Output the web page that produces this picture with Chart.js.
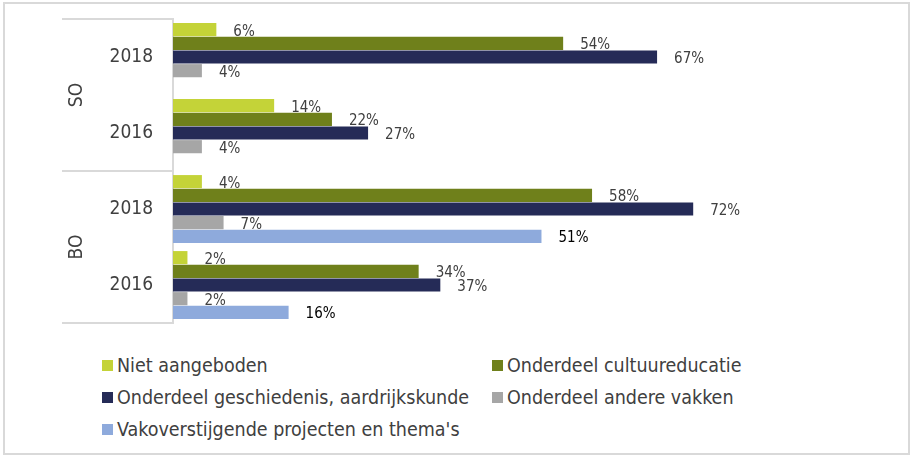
<!DOCTYPE html>
<html lang="nl">
  <head>
    <meta charset="utf-8">
    <title>Aanbod erfgoedonderwijs SO en BO</title>
    <style>
      body { margin: 0; background: #fff; font-family: "DejaVu Sans Condensed", "Liberation Sans Narrow", sans-serif; }
      #frame { position: absolute; left: 3px; top: 2px; width: 903px; height: 449px; border: 2px solid #d9d9d9; }
      #wrap { position: absolute; left: 0; top: 0; width: 911px; height: 340px; }
      #legend { position: absolute; left: 102px; top: 354px; display: grid; grid-template-columns: 390px 300px; row-gap: 10px; }
      .item { display: flex; align-items: center; font-size: 19.5px; color: #404040; height: 22px; white-space: nowrap; }
      .box { width: 11px; height: 11px; margin-right: 4px; }
    </style>
  </head>
  <body>
    <div id="frame"></div>
    <div id="wrap"><canvas id="myChart" width="911" height="340"></canvas></div>
    <div id="legend"></div>

    <script src="https://cdn.jsdelivr.net/npm/chart.js@4.4.0/dist/chart.umd.min.js"></script>
    <script>
    // jaren per groep, van boven naar beneden
    const years = ['2018', '2016', '2018', '2016']
    const groups = ['SO', 'BO']

    const nietAangeboden = [6, 14, 4, 2]
    const cultuureducatie = [54, 22, 58, 34]
    const geschiedenis = [67, 27, 72, 37]
    const andereVakken = [4, 4, 7, 2]
    const vakoverstijgend = [null, null, 51, 16]

    const series = [
      { label: 'Niet aangeboden', data: nietAangeboden, color: '#c4d338', text: '#404040' },
      { label: 'Onderdeel cultuureducatie', data: cultuureducatie, color: '#6f801b', text: '#404040' },
      { label: 'Onderdeel geschiedenis, aardrijkskunde', data: geschiedenis, color: '#252b57', text: '#404040' },
      { label: 'Onderdeel andere vakken', data: andereVakken, color: '#a6a6a6', text: '#404040' },
      { label: "Vakoverstijgende projecten en thema's", data: vakoverstijgend, color: '#8eaadc', text: '#000' }
    ]

    // percentages rechts naast de balken
    const barLabels = {
      id: 'barLabels',
      afterDatasetsDraw(chart) {
        const ctx = chart.ctx
        ctx.save()
        ctx.font = '15px "DejaVu Sans Condensed", "Liberation Sans Narrow", sans-serif'
        ctx.textBaseline = 'middle'
        chart.data.datasets.forEach((ds, i) => {
          chart.getDatasetMeta(i).data.forEach((bar, j) => {
            const v = ds.data[j]
            if (v === null) return
            ctx.fillStyle = series[i].text
            ctx.fillText(v + '%', bar.x + 17, bar.y + 2)
          })
        })
        ctx.restore()
      }
    }

    // tweede niveau van de y-as: SO / BO met kaderlijnen
    const groupAxis = {
      id: 'groupAxis',
      afterDraw(chart) {
        const ctx = chart.ctx
        const y = chart.scales.y
        const half = (y.getPixelForValue(1) - y.getPixelForValue(0)) / 2
        const left = 62
        const right = chart.chartArea.left
        ctx.save()
        ctx.strokeStyle = '#d9d9d9'
        ctx.lineWidth = 2
        const lines = [y.getPixelForValue(0) - half, y.getPixelForValue(1) + half, y.getPixelForValue(3) + half]
        lines.forEach(p => {
          ctx.beginPath()
          ctx.moveTo(left, p)
          ctx.lineTo(right, p)
          ctx.stroke()
        })
        ctx.fillStyle = '#404040'
        ctx.font = '19px "DejaVu Sans Condensed", "Liberation Sans Narrow", sans-serif'
        ctx.textAlign = 'center'
        ctx.textBaseline = 'middle'
        groups.forEach((g, k) => {
          const mid = (y.getPixelForValue(k * 2) + y.getPixelForValue(k * 2 + 1)) / 2
          ctx.save()
          ctx.translate(77, mid)
          ctx.rotate(-Math.PI / 2)
          ctx.fillText(g, 0, 0)
          ctx.restore()
        })
        ctx.restore()
      }
    }

    const ctx = document.getElementById('myChart').getContext('2d')
    const myChart = new Chart(ctx, {
      type: 'bar',
      data: {
        labels: years,
        datasets: series.map(s => ({
          label: s.label,
          data: s.data,
          backgroundColor: s.color,
          categoryPercentage: 0.9,
          barPercentage: 0.96
        }))
      },
      options: {
        indexAxis: 'y',
        responsive: false,
        animation: false,
        layout: { padding: { top: 19, bottom: 17, right: 160, left: 0 } },
        plugins: {
          legend: { display: false },
          tooltip: { enabled: false }
        },
        scales: {
          x: { display: false, min: 0, max: 80 },
          y: {
            grid: { display: false },
            border: { color: '#d9d9d9', width: 2 },
            ticks: {
              color: '#404040',
              padding: 12,
              font: { size: 19, family: '"DejaVu Sans Condensed", "Liberation Sans Narrow", sans-serif' }
            },
            afterFit(scale) {
              scale.width = 173
              scale.paddingTop = 0
              scale.paddingBottom = 0
            }
          }
        }
      },
      plugins: [barLabels, groupAxis]
    })

    // legenda in twee kolommen
    const legend = document.getElementById('legend')
    series.forEach(s => {
      const item = document.createElement('div')
      item.className = 'item'
      const box = document.createElement('span')
      box.className = 'box'
      box.style.background = s.color
      item.appendChild(box)
      item.appendChild(document.createTextNode(s.label))
      legend.appendChild(item)
    })
    </script>
  </body>
</html>
